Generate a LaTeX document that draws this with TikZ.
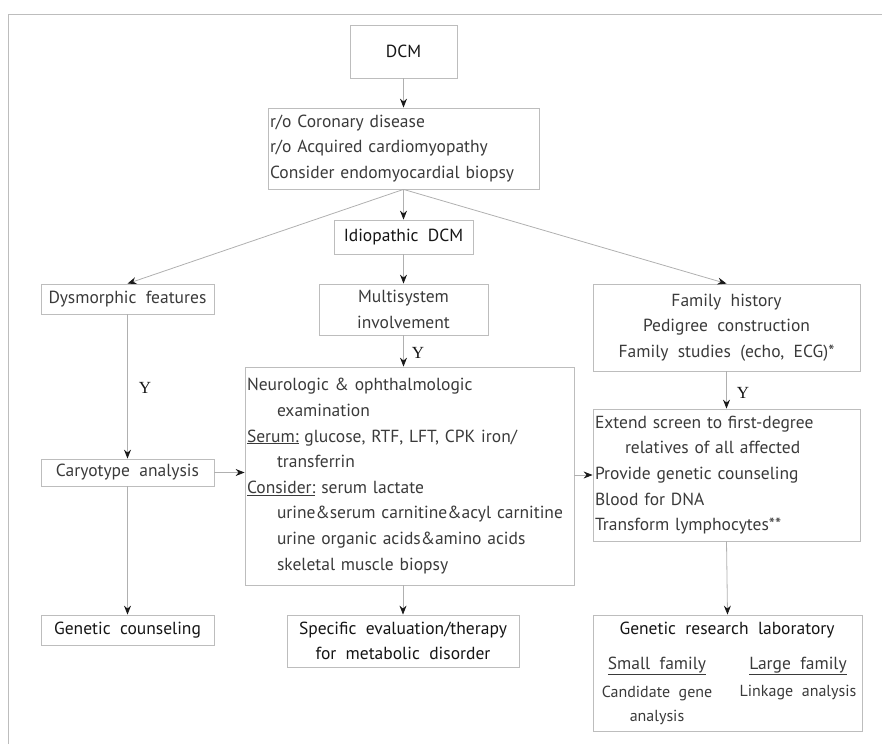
\documentclass[tikz,border=0pt]{standalone}
\usepackage{fontspec}
\setmainfont[WordSpace=2]{PT Sans}
\newfontfamily\yfont{Liberation Serif}
\usetikzlibrary{arrows.meta}
\definecolor{boxgray}{HTML}{BDBDBD}
\definecolor{linegray}{HTML}{B0B0B0}
\definecolor{txt}{HTML}{3A3A3A}
\definecolor{dark}{HTML}{151515}
\definecolor{tipcol}{HTML}{1A1A1A}
\newcommand{\mfs}{\fontsize{17.5}{25.6}\selectfont}
\newcommand{\sfs}{\fontsize{16}{24}\selectfont}
\tikzset{
  box/.style={draw=boxgray, line width=0.8pt, inner sep=0pt, text=txt, font=\mfs},
  heavy/.style={text=dark},
  conn/.style={draw=linegray, line width=0.8pt, -{Stealth[length=9pt,width=7pt,inset=3pt,color=tipcol]}},
  ylab/.style={font=\yfont\fontsize{17}{20}\selectfont, text=dark, inner sep=0pt},
  sub/.style={text=txt, inner sep=0pt, font=\mfs},
}
\begin{document}
\begin{tikzpicture}[x=1pt,y=-1pt]
\useasboundingbox (0,0) rectangle (882,744);
\draw[draw=boxgray, line width=0.8pt] (8,744) -- (8,14) -- (882,14);
% boxes
\node[box,heavy, minimum width=107pt, minimum height=53pt] (dcm) at (403.5,51.5) {DCM};
\node[box, minimum width=271pt, minimum height=81pt, text width=267pt, align=left] (ro) at (403.5,148.5)
  {r/o Coronary disease\\ r/o Acquired cardiomyopathy\\ Consider endomyocardial biopsy};
\node[box,heavy, minimum width=139pt, minimum height=34pt] (idio) at (403.5,237) {Idiopathic DCM};
\node[box, minimum width=173pt, minimum height=30pt] (dys) at (127.5,299) {Dysmorphic features};
\node[box, minimum width=169pt, minimum height=51pt, align=center] (multi) at (403.5,309.5) {Multisystem\\ involvement};
\node[box, minimum width=267pt, minimum height=87pt, align=center] (fam) at (726.5,327.5)
  {Family history\\ Pedigree construction\\ Family studies (echo, ECG)*};
\node[box, minimum width=329pt, minimum height=218pt, text width=325pt, align=left] (big) at (409.5,476)
  {Neurologic \& ophthalmologic\\
   \hspace*{30pt}examination\\
   \underline{Serum:} glucose, RTF, LFT, CPK iron/\\
   \hspace*{30pt}transferrin\\
   \underline{Consider:} serum lactate\\
   \hspace*{30pt}urine\&serum carnitine\&acyl carnitine\\
   \hspace*{30pt}urine organic acids\&amino acids\\
   \hspace*{30pt}skeletal muscle biopsy};
\node[box, minimum width=173pt, minimum height=27pt] (cary) at (127.5,472.5) {Caryotype analysis};
\node[box,heavy, minimum width=173pt, minimum height=30pt] (gc) at (127.5,630) {Genetic counseling};
\node[box,heavy, minimum width=232pt, minimum height=52pt, align=center] (spec) at (403,641)
  {Specific evaluation/therapy\\ for metabolic disorder};
\node[box, minimum width=267pt, minimum height=132pt, text width=263pt, align=left] (ext) at (726.5,475)
  {Extend screen to first-degree\\
   \hspace*{30pt}relatives of all affected\\
   Provide genetic counseling\\
   Blood for DNA\\
   Transform lymphocytes**};
\node[box, minimum width=269pt, minimum height=116pt] (lab) at (727.5,673) {};
\node[sub, text=dark] (labt) at (727,630) {Genetic research laboratory};
\node[sub] (small) at (657,666) {\underline{Small family}};
\node[sub] (large) at (798,666) {\underline{Large family}};
\node[sub, font=\sfs, align=center] (cand) at (657,705) {Candidate gene\\ analysis};
\node[sub, font=\sfs] (link) at (798,693) {Linkage analysis};
% connectors
\draw[conn] (dcm.south) -- (ro.north);
\draw[conn] (ro.south) -- (idio.north);
\draw[conn] (ro.south) -- (dys.north);
\draw[conn] (ro.south) -- (fam.north);
\draw[conn] (idio.south) -- (multi.north);
\draw[conn] (multi.south) -- (multi.south |- big.north);
\draw[conn] (dys.south) -- (cary.north);
\draw[conn] (cary.east) -- (cary.east -| big.west);
\draw[conn] (cary.south) -- (gc.north);
\draw[conn] (spec.north |- big.south) -- (spec.north);
\draw[conn] (ext.west -| big.east) -- (ext.west);
\draw[conn] (fam.south) -- (ext.north);
\draw[conn] (ext.south) -- (lab.north);
% labels
\node[ylab] (y1) at (145,388) {Y};
\node[ylab] (y2) at (418,353) {Y};
\node[ylab] (y3) at (743,393) {Y};
\end{tikzpicture}
\end{document}
